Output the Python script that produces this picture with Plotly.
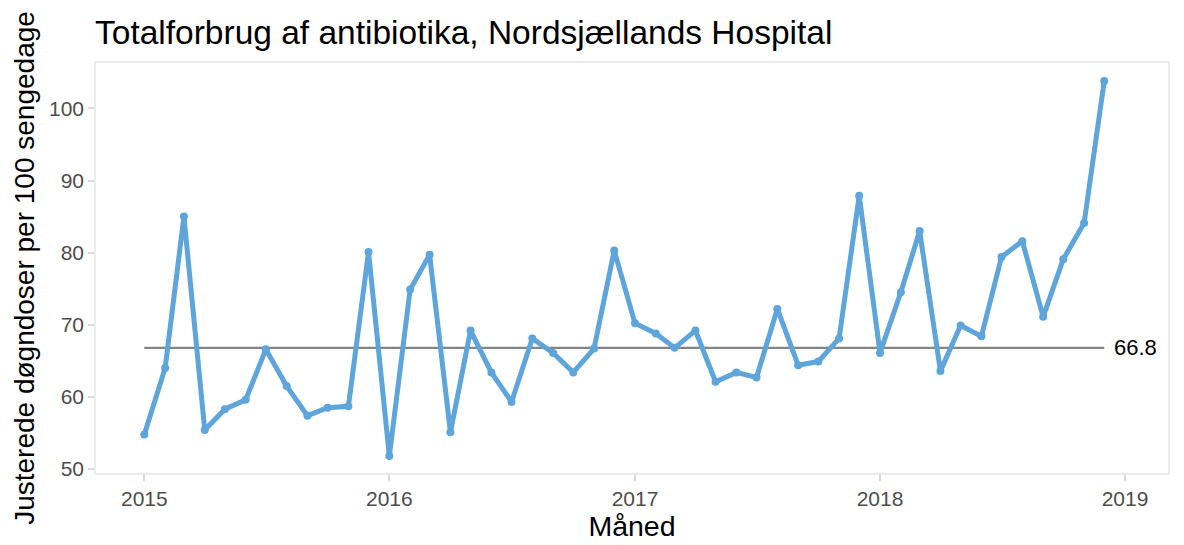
import plotly.graph_objects as go

months = [f"{y}-{m:02d}-01" for y in range(2015, 2019) for m in range(1, 13)]
values = [54.8, 64.0, 85.0, 55.4, 58.3, 59.6, 66.6, 61.5, 57.4, 58.5, 58.7, 80.1,
          51.8, 74.9, 79.7, 55.1, 69.2, 63.4, 59.3, 68.1, 66.1, 63.4, 66.7, 80.3,
          70.2, 68.8, 66.8, 69.2, 62.1, 63.4, 62.7, 72.2, 64.4, 64.9, 68.1, 87.9,
          66.1, 74.5, 83.0, 63.6, 69.9, 68.4, 79.4, 81.6, 71.1, 79.1, 84.1, 103.8]
median_value = 66.8
x_ticks = ["2015-01-01", "2016-01-01", "2017-01-01", "2018-01-01", "2019-01-01"]
x_ticklabels = ["2015", "2016", "2017", "2018", "2019"]
y_ticks = [50, 60, 70, 80, 90, 100]

FONT = "Liberation Sans, Arial"

fig = go.Figure()
fig.add_trace(go.Scatter(
    x=[months[0], months[-1]], y=[median_value, median_value],
    mode="lines", line=dict(color="#858585", width=2.3), hoverinfo="skip", showlegend=False))
fig.add_trace(go.Scatter(
    x=months, y=values, mode="lines+markers",
    line=dict(color="#5DA5DA", width=5),
    marker=dict(color="#5DA5DA", size=8), showlegend=False))

fig.add_annotation(x=months[-1], y=median_value, text=f"{median_value}",
                   xanchor="left", yanchor="middle", xshift=8, showarrow=False,
                   font=dict(size=22, color="black", family=FONT))

axis_common = dict(showgrid=False, zeroline=False, showline=True, mirror=True,
                   linecolor="#EBEBEB", linewidth=1.5, ticks="outside", ticklen=6,
                   tickcolor="#D9D9D9", tickwidth=1.5, automargin=False,
                   tickfont=dict(size=21, color="#4D4D4D", family=FONT))

fig.update_layout(
    width=1184, height=545,
    paper_bgcolor="white", plot_bgcolor="white",
    margin=dict(l=88, r=24, t=55, b=80),
    title=dict(text="Totalforbrug af antibiotika, Nordsjællands Hospital",
               x=87/1184, xanchor="left", y=1-24/545, yanchor="middle",
               font=dict(size=33.5, color="black", family=FONT)),
    xaxis=dict(type="date", range=["2014-10-21", "2019-03-06"],
               tickvals=x_ticks, ticktext=x_ticklabels,
               title=dict(text="Måned", font=dict(size=28.5, color="black", family=FONT),
                          standoff=6),
               **axis_common),
    yaxis=dict(range=[49.45, 106.3], tickvals=y_ticks,
               title=dict(text="Justerede døgndoser per 100 sengedage",
                          font=dict(size=28, color="black", family=FONT),
                          standoff=6),
               **axis_common),
)

fig.write_html("out.html")
